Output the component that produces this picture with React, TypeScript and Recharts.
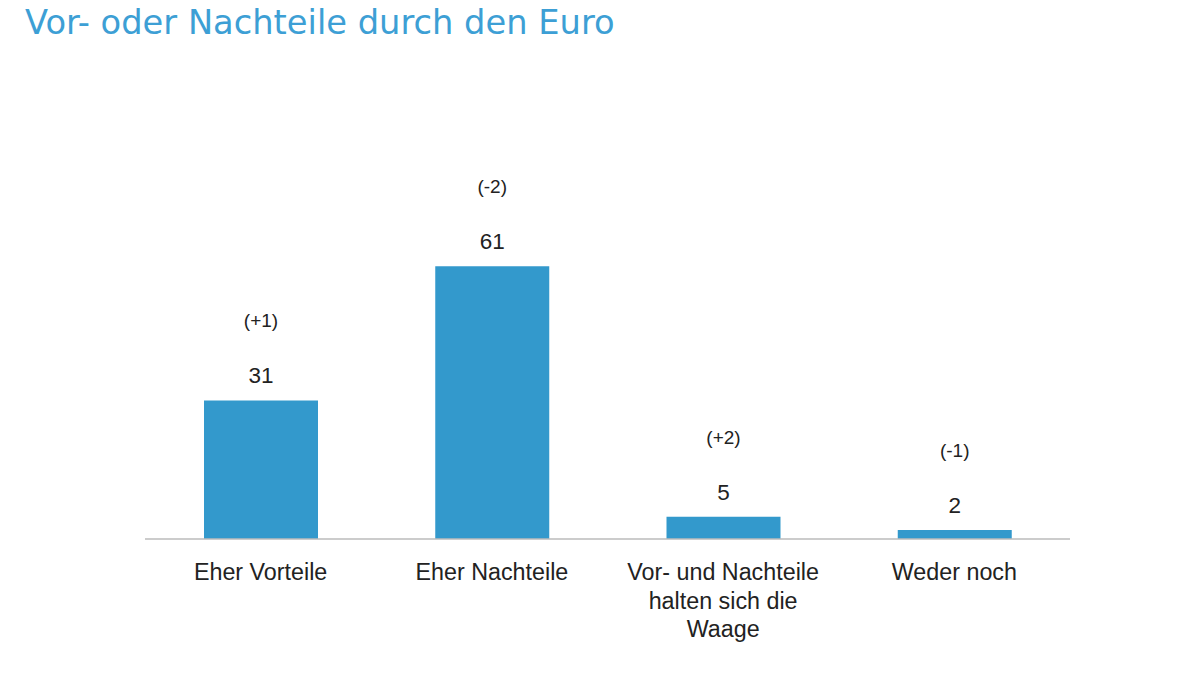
import { BarChart, Bar, XAxis, YAxis, LabelList } from 'recharts';

const categories = [
    'Eher Vorteile',
    'Eher Nachteile',
    'Vor- und Nachteile\nhalten sich die\nWaage',
    'Weder noch',
];
const shares = [31, 61, 5, 2];
const changes = ['(+1)', '(-2)', '(+2)', '(-1)'];

const data = categories.map((name, i) => ({ name, value: shares[i], change: changes[i] }));

const CategoryTick = (props: any) => {
    const { x, y, payload } = props;
    const lines = String(payload.value).split('\n');
    return (
        <g>
            {lines.map((line, i) => (
                <text
                    key={i}
                    x={x}
                    y={y + 33 + i * 28.5}
                    textAnchor="middle"
                    fontFamily="'Liberation Sans', Arial, sans-serif"
                    fontSize={23.3}
                    fill="#222"
                >
                    {line}
                </text>
            ))}
        </g>
    );
};

const BarLabels = (props: any) => {
    const { x, y, width, index } = props;
    const cx = x + width / 2;
    return (
        <g fontFamily="'Liberation Sans', Arial, sans-serif" fill="#222" textAnchor="middle">
            <text x={cx} y={y - 78} fontSize={19} dominantBaseline="middle">{changes[index]}</text>
            <text x={cx} y={y - 23} fontSize={22.5} dominantBaseline="middle">{shares[index]}</text>
        </g>
    );
};

export default function App() {
    return (
        <div style={{ position: 'fixed', left: 0, top: 0, width: 1200, height: 675, background: '#fff' }}>
            <div
                style={{
                    position: 'absolute',
                    left: 25,
                    top: 3,
                    fontFamily: "'DejaVu Sans', Verdana, sans-serif",
                    fontSize: 33.7,
                    color: '#3d9fd5',
                    whiteSpace: 'nowrap',
                }}
            >
                Vor- oder Nachteile durch den Euro
            </div>
            <BarChart
                width={1200}
                height={675}
                data={data}
                margin={{ top: 92, right: 130, bottom: 0, left: 145 }}
            >
                <YAxis hide domain={[0, 100]} />
                <XAxis
                    dataKey="name"
                    interval={0}
                    tickLine={false}
                    axisLine={{ stroke: '#bbbbbb', strokeWidth: 1.5 }}
                    tick={<CategoryTick />}
                    height={136}
                />
                <Bar dataKey="value" fill="#3399cc" barSize={114} isAnimationActive={false}>
                    <LabelList dataKey="value" content={<BarLabels />} />
                </Bar>
            </BarChart>
        </div>
    );
}
